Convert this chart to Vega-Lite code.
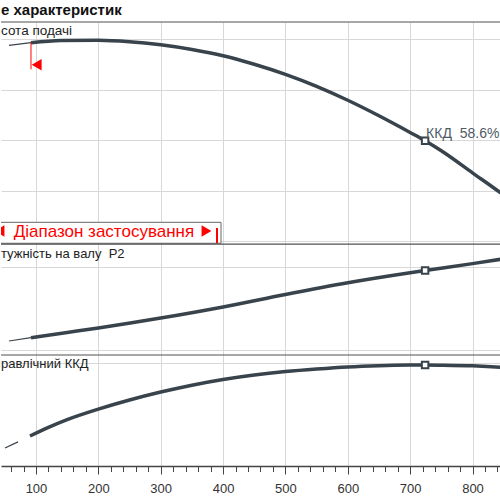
{
  "$schema": "https://vega.github.io/schema/vega-lite/v6.json",
  "padding": {"top": 3, "left": 0, "right": 0, "bottom": 0},
  "spacing": 0,
  "bounds": "flush",
  "title": {
    "text": "е характеристик",
    "anchor": "start",
    "frame": "group",
    "font": "Liberation Sans",
    "fontSize": 15,
    "fontWeight": "bold",
    "color": "#111111",
    "offset": 3
  },
  "datasets": {
    "curves": [
      {"curve": "head", "part": "outside", "q": 56.7, "v": 15.5},
      {"curve": "head", "part": "outside", "q": 92, "v": 15.71},
      {"curve": "head", "part": "range", "q": 92, "v": 15.71},
      {"curve": "head", "part": "range", "q": 140, "v": 15.88},
      {"curve": "head", "part": "range", "q": 200, "v": 15.91},
      {"curve": "head", "part": "range", "q": 250, "v": 15.79},
      {"curve": "head", "part": "range", "q": 300, "v": 15.54},
      {"curve": "head", "part": "range", "q": 350, "v": 15.17},
      {"curve": "head", "part": "range", "q": 400, "v": 14.68},
      {"curve": "head", "part": "range", "q": 450, "v": 14.0},
      {"curve": "head", "part": "range", "q": 500, "v": 13.2},
      {"curve": "head", "part": "range", "q": 550, "v": 12.25},
      {"curve": "head", "part": "range", "q": 600, "v": 11.15},
      {"curve": "head", "part": "range", "q": 650, "v": 9.92},
      {"curve": "head", "part": "range", "q": 700, "v": 8.6},
      {"curve": "head", "part": "range", "q": 724, "v": 7.95},
      {"curve": "head", "part": "range", "q": 750, "v": 7.15},
      {"curve": "head", "part": "range", "q": 800, "v": 5.4},
      {"curve": "head", "part": "range", "q": 846, "v": 3.78},
      {"curve": "head", "part": "range", "q": 860, "v": 3.25},
      {"curve": "p2", "part": "outside", "q": 56.7, "v": 3.24},
      {"curve": "p2", "part": "outside", "q": 92, "v": 4.43},
      {"curve": "p2", "part": "range", "q": 92, "v": 4.43},
      {"curve": "p2", "part": "range", "q": 150, "v": 6.3},
      {"curve": "p2", "part": "range", "q": 200, "v": 7.92},
      {"curve": "p2", "part": "range", "q": 300, "v": 11.5},
      {"curve": "p2", "part": "range", "q": 400, "v": 15.5},
      {"curve": "p2", "part": "range", "q": 500, "v": 20.0},
      {"curve": "p2", "part": "range", "q": 600, "v": 24.2},
      {"curve": "p2", "part": "range", "q": 700, "v": 27.8},
      {"curve": "p2", "part": "range", "q": 724, "v": 28.6},
      {"curve": "p2", "part": "range", "q": 800, "v": 31.1},
      {"curve": "p2", "part": "range", "q": 846, "v": 32.7},
      {"curve": "p2", "part": "range", "q": 860, "v": 33.2},
      {"curve": "eff", "part": "outside", "q": 50.3, "v": 10.4},
      {"curve": "eff", "part": "outside", "q": 71.2, "v": 14.0},
      {"curve": "eff", "part": "range", "q": 90.4, "v": 17.4},
      {"curve": "eff", "part": "range", "q": 120, "v": 22.4},
      {"curve": "eff", "part": "range", "q": 150, "v": 26.9},
      {"curve": "eff", "part": "range", "q": 200, "v": 33.0},
      {"curve": "eff", "part": "range", "q": 250, "v": 38.3},
      {"curve": "eff", "part": "range", "q": 300, "v": 42.9},
      {"curve": "eff", "part": "range", "q": 350, "v": 46.9},
      {"curve": "eff", "part": "range", "q": 400, "v": 50.2},
      {"curve": "eff", "part": "range", "q": 450, "v": 52.8},
      {"curve": "eff", "part": "range", "q": 500, "v": 54.8},
      {"curve": "eff", "part": "range", "q": 550, "v": 56.3},
      {"curve": "eff", "part": "range", "q": 600, "v": 57.5},
      {"curve": "eff", "part": "range", "q": 650, "v": 58.2},
      {"curve": "eff", "part": "range", "q": 700, "v": 58.55},
      {"curve": "eff", "part": "range", "q": 724, "v": 58.6},
      {"curve": "eff", "part": "range", "q": 750, "v": 58.5},
      {"curve": "eff", "part": "range", "q": 800, "v": 58.1},
      {"curve": "eff", "part": "range", "q": 846, "v": 57.2},
      {"curve": "eff", "part": "range", "q": 860, "v": 56.8}
    ],
    "bep": [
      {"curve": "head", "q": 724, "v": 7.95},
      {"curve": "p2", "q": 724, "v": 28.6},
      {"curve": "eff", "q": 724, "v": 58.6}
    ]
  },
  "vconcat": [
    {
      "width": 500,
      "height": 222,
      "layer": [
        {
          "data": {"name": "curves"},
          "transform": [{"filter": "datum.curve === 'head'"}],
          "mark": {"type": "line", "interpolate": "monotone", "clip": true, "color": "#38434c"},
          "encoding": {
            "x": {
              "field": "q",
              "type": "quantitative",
              "scale": {"domain": [43.9, 845.7], "nice": false, "zero": false},
              "axis": {"values": [100, 200, 300, 400, 500, 600, 700, 800], "labels": false, "ticks": false, "domain": false, "grid": true, "title": null, "minExtent": 0, "maxExtent": 0}
            },
            "y": {
              "field": "v",
              "type": "quantitative",
              "scale": {"domain": [-0.238, 17.35], "nice": false, "zero": false},
              "axis": {"values": [0, 2, 4, 6, 8, 10, 12, 14, 16], "labels": false, "ticks": false, "domain": false, "grid": true, "title": null, "minExtent": 0, "maxExtent": 0}
            },
            "strokeWidth": {"field": "part", "type": "nominal", "scale": {"domain": ["outside", "range"], "range": [1.2, 3.5]}, "legend": null}
          }
        },
        {
          "data": {"name": "bep"},
          "transform": [{"filter": "datum.curve === 'head'"}],
          "mark": {"type": "point", "shape": "square", "filled": true, "fill": "white", "stroke": "#38434c", "strokeWidth": 2, "size": 42, "opacity": 1},
          "encoding": {
            "x": {"field": "q", "type": "quantitative"},
            "y": {"field": "v", "type": "quantitative"}
          }
        },
        {
          "data": {"name": "bep"},
          "transform": [{"filter": "datum.curve === 'head'"}],
          "mark": {"type": "text", "align": "left", "baseline": "alphabetic", "dx": 1, "dy": -3, "fontSize": 14, "color": "#4f5b66"},
          "encoding": {
            "x": {"field": "q", "type": "quantitative"},
            "y": {"field": "v", "type": "quantitative"},
            "text": {"value": "ККД\u00a0\u00a058.6%"}
          }
        },
        {
          "data": {"values": [{}]},
          "mark": {"type": "rule", "color": "#505050", "strokeWidth": 1.2},
          "encoding": {"y": {"datum": 17.35}}
        },
        {
          "data": {"values": [{}]},
          "mark": {"type": "rule", "color": "#ff0000", "strokeWidth": 1},
          "encoding": {"x": {"datum": 92}, "y": {"datum": 15.71}, "y2": {"datum": 13.6}}
        },
        {
          "data": {"values": [{}]},
          "mark": {"type": "point", "shape": "triangle-left", "filled": true, "color": "#ff0000", "size": 130, "opacity": 1},
          "encoding": {"x": {"datum": 101.1}, "y": {"datum": 13.96}}
        },
        {
          "data": {"values": [{}]},
          "mark": {"type": "rect", "fill": "white", "stroke": "#666666", "strokeWidth": 1, "clip": true},
          "encoding": {"x": {"datum": 38}, "x2": {"datum": 396.7}, "y": {"datum": 1.48}, "y2": {"datum": -0.18}}
        },
        {
          "data": {"values": [{}]},
          "mark": {"type": "text", "align": "left", "baseline": "alphabetic", "fontSize": 17, "color": "#ff0000"},
          "encoding": {"x": {"datum": 64.3}, "y": {"datum": 0.34}, "text": {"value": "Діапазон застосування"}}
        },
        {
          "data": {"values": [{}]},
          "mark": {"type": "point", "shape": "triangle-left", "filled": true, "color": "#ff0000", "size": 130, "opacity": 1, "clip": true},
          "encoding": {"x": {"datum": 41.5}, "y": {"datum": 0.79}}
        },
        {
          "data": {"values": [{}]},
          "mark": {"type": "point", "shape": "triangle-right", "filled": true, "color": "#ff0000", "size": 130, "opacity": 1},
          "encoding": {"x": {"datum": 373.4}, "y": {"datum": 0.79}}
        },
        {
          "data": {"values": [{}]},
          "mark": {"type": "rule", "color": "#ff0000", "strokeWidth": 2},
          "encoding": {"x": {"datum": 390.3}, "y": {"datum": 1.03}, "y2": {"datum": -0.16}}
        },
        {
          "data": {"values": [{}]},
          "mark": {"type": "text", "align": "left", "baseline": "alphabetic", "fontSize": 13.5, "color": "#222222"},
          "encoding": {"x": {"datum": 43.9}, "y": {"datum": 16.32}, "text": {"value": "сота подачі"}}
        }
      ]
    },
    {
      "width": 500,
      "height": 111,
      "layer": [
        {
          "data": {"name": "curves"},
          "transform": [{"filter": "datum.curve === 'p2'"}],
          "mark": {"type": "line", "interpolate": "monotone", "clip": true, "color": "#38434c"},
          "encoding": {
            "x": {
              "field": "q",
              "type": "quantitative",
              "scale": {"domain": [43.9, 845.7], "nice": false, "zero": false},
              "axis": {"values": [100, 200, 300, 400, 500, 600, 700, 800], "labels": false, "ticks": false, "domain": false, "grid": true, "title": null, "minExtent": 0, "maxExtent": 0}
            },
            "y": {
              "field": "v",
              "type": "quantitative",
              "scale": {"domain": [-1.8, 38.17], "nice": false, "zero": false},
              "axis": {"values": [0, 10, 20, 30], "labels": false, "ticks": false, "domain": false, "grid": true, "title": null, "minExtent": 0, "maxExtent": 0}
            },
            "strokeWidth": {"field": "part", "type": "nominal", "scale": {"domain": ["outside", "range"], "range": [1.2, 3.5]}, "legend": null}
          }
        },
        {
          "data": {"name": "bep"},
          "transform": [{"filter": "datum.curve === 'p2'"}],
          "mark": {"type": "point", "shape": "square", "filled": true, "fill": "white", "stroke": "#38434c", "strokeWidth": 2, "size": 42, "opacity": 1},
          "encoding": {
            "x": {"field": "q", "type": "quantitative"},
            "y": {"field": "v", "type": "quantitative"}
          }
        },
        {
          "data": {"values": [{}]},
          "mark": {"type": "rule", "color": "#505050", "strokeWidth": 1.2},
          "encoding": {"y": {"datum": 38.1}}
        },
        {
          "data": {"values": [{}]},
          "mark": {"type": "text", "align": "left", "baseline": "alphabetic", "fontSize": 13, "color": "#222222"},
          "encoding": {"x": {"datum": 43.9}, "y": {"datum": 33.0}, "text": {"value": "тужність на валу\u00a0\u00a0P2"}}
        }
      ]
    },
    {
      "width": 500,
      "height": 111,
      "resolve": {"axis": {"x": "independent"}},
      "layer": [
        {
          "data": {"name": "curves"},
          "transform": [{"filter": "datum.curve === 'eff'"}],
          "mark": {"type": "line", "interpolate": "monotone", "clip": true, "color": "#38434c"},
          "encoding": {
            "x": {
              "field": "q",
              "type": "quantitative",
              "scale": {"domain": [43.9, 845.7], "nice": false, "zero": false},
              "axis": {
                "orient": "bottom",
                "values": [100, 200, 300, 400, 500, 600, 700, 800],
                "title": null,
                "grid": true,
                "domainColor": "#444444",
                "domainWidth": 1.5,
                "tickColor": "#444444",
                "tickWidth": 1,
                "tickSize": 8,
                "labelFont": "Liberation Sans",
                "labelFontSize": 13,
                "labelColor": "#333333",
                "labelPadding": 8,
                "labelFlush": false,
                "labelOverlap": false
              }
            },
            "y": {
              "field": "v",
              "type": "quantitative",
              "scale": {"domain": [0, 64.4], "nice": false, "zero": false},
              "axis": {"values": [0, 20, 40, 60], "labels": false, "ticks": false, "domain": false, "grid": true, "title": null, "minExtent": 0, "maxExtent": 0}
            },
            "strokeWidth": {"field": "part", "type": "nominal", "scale": {"domain": ["outside", "range"], "range": [1.2, 3.5]}, "legend": null}
          }
        },
        {
          "data": {"name": "bep"},
          "transform": [{"filter": "datum.curve === 'eff'"}],
          "mark": {"type": "point", "shape": "square", "filled": true, "fill": "white", "stroke": "#38434c", "strokeWidth": 2, "size": 42, "opacity": 1},
          "encoding": {
            "x": {
              "field": "q",
              "type": "quantitative",
              "axis": {
                "orient": "bottom",
                "values": [60, 80, 120, 140, 160, 180, 220, 240, 260, 280, 320, 340, 360, 380, 420, 440, 460, 480, 520, 540, 560, 580, 620, 640, 660, 680, 720, 740, 760, 780, 820, 840],
                "title": null,
                "grid": false,
                "domain": false,
                "labels": false,
                "tickColor": "#444444",
                "tickWidth": 1,
                "tickSize": 5.5
              }
            },
            "y": {"field": "v", "type": "quantitative"}
          }
        },
        {
          "data": {"values": [{}]},
          "mark": {"type": "rule", "color": "#505050", "strokeWidth": 1.2},
          "encoding": {"y": {"datum": 64.4}}
        },
        {
          "data": {"values": [{}]},
          "mark": {"type": "text", "align": "left", "baseline": "alphabetic", "fontSize": 13, "color": "#222222"},
          "encoding": {"x": {"datum": 43.9, "axis": null}, "y": {"datum": 56.7}, "text": {"value": "равлічний ККД"}}
        }
      ]
    }
  ],
  "config": {
    "view": {"stroke": null},
    "font": "Liberation Sans",
    "axis": {"gridColor": "#d8d8d8", "gridWidth": 1}
  }
}
